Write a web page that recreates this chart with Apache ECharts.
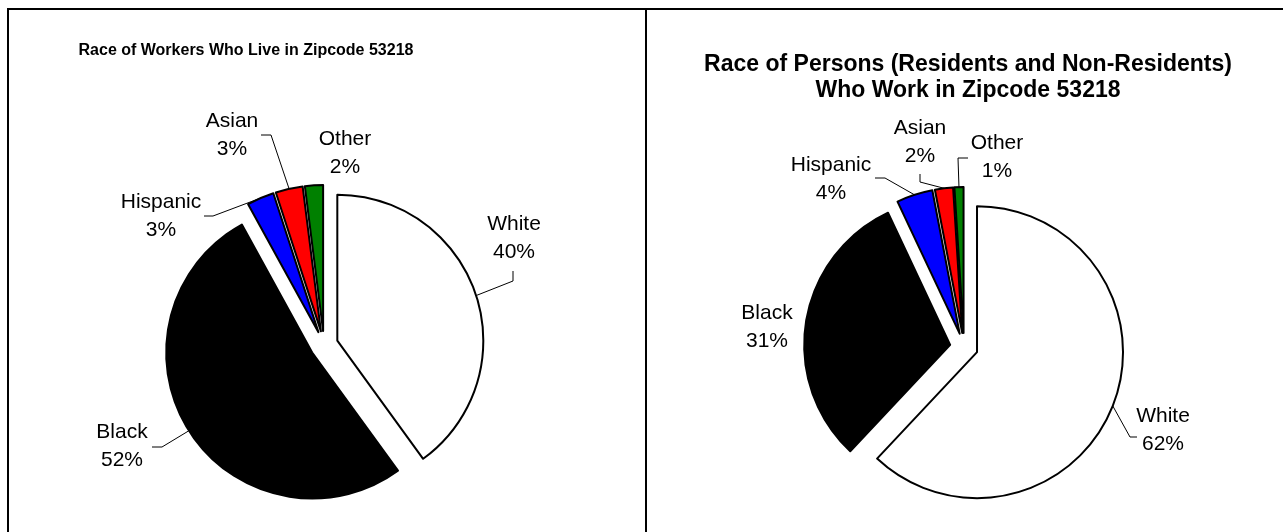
<!DOCTYPE html>
<html>
<head>
<meta charset="utf-8">
<script src="https://cdn.jsdelivr.net/npm/echarts@6/dist/echarts.min.js"></script>
<style>
  html, body { margin: 0; padding: 0; background: #ffffff; }
  #chart { width: 1283px; height: 532px; }
</style>
</head>
<body>
<div id="chart"></div>
<script>
// Race categories and their shares (percent) for the two zipcode pies
const categories = ['White', 'Black', 'Hispanic', 'Asian', 'Other'];
const liveShares = [40, 52, 3, 3, 2];
const workShares = [62, 31, 4, 2, 1];
const sliceColors = ['#ffffff', '#000000', '#0000ff', '#ff0000', '#008000'];
const liveTitle = ['Race of Workers Who Live in Zipcode 53218'];
const workTitle = ['Race of Persons (Residents and Non-Residents)', 'Who Work in Zipcode 53218'];

const FONT = "'Liberation Sans', Arial, Helvetica, sans-serif";
const PIE_RADIUS = 146;
const EXPLODE = 14;

// Label placement (text block centre) and the leader-line elbow for each slice
const liveLabels = {
  White:    { x: 514, y: 238, line: [[513, 281], [513, 271]] },
  Black:    { x: 122, y: 446, line: [[162, 447], [152, 447]] },
  Hispanic: { x: 161, y: 216, line: [[213, 216], [204, 216]] },
  Asian:    { x: 232, y: 135, line: [[271, 135], [261, 135]] },
  Other:    { x: 345, y: 153, line: null }
};
const workLabels = {
  White:    { x: 1163, y: 430, line: [[1130, 437], [1137, 437]] },
  Black:    { x: 767, y: 327, line: null },
  Hispanic: { x: 831, y: 179, line: [[885, 178], [875, 178]] },
  Asian:    { x: 920, y: 142, line: [[920, 182], [920, 174]] },
  Other:    { x: 997, y: 157, line: [[958, 158], [968, 158]] }
};

const pies = [
  { shares: liveShares, center: [324, 345], labels: liveLabels,
    title: liveTitle, titleX: 246, titleY: 51, titleSize: 16, titleGap: 19 },
  { shares: workShares, center: [964, 347], labels: workLabels,
    title: workTitle, titleX: 968, titleY: 65, titleSize: 23, titleGap: 26 }
];

// Direction of a slice's mid-angle (clockwise from 12 o'clock)
function sliceDirection(shares, idx) {
  const total = shares.reduce((a, b) => a + b, 0);
  let before = 0;
  for (let k = 0; k < idx; k++) before += shares[k];
  const theta = (before + shares[idx] / 2) / total * Math.PI * 2;
  return [Math.sin(theta), -Math.cos(theta)];
}

const series = [];
pies.forEach(pie => {
  categories.forEach((cat, i) => {
    const [ux, uy] = sliceDirection(pie.shares, i);
    const c = [pie.center[0] + EXPLODE * ux, pie.center[1] + EXPLODE * uy];
    const anchor = [c[0] + PIE_RADIUS * ux, c[1] + PIE_RADIUS * uy];
    const lay = pie.labels[cat];
    series.push({
      type: 'pie',
      center: c,
      radius: PIE_RADIUS,
      startAngle: 90,
      clockwise: true,
      avoidLabelOverlap: false,
      silent: true,
      animation: false,
      label: {
        position: 'outside',
        color: '#000',
        fontFamily: FONT,
        fontSize: 21,
        lineHeight: 28,
        align: 'center',
        formatter: p => p.name + '\n' + p.value + '%'
      },
      labelLine: { show: true, length: 6, length2: 6, lineStyle: { color: '#000', width: 1 } },
      data: categories.map((name, j) => ({
        name: name,
        value: pie.shares[j],
        itemStyle: j === i
          ? { color: sliceColors[j], borderColor: '#000', borderWidth: 2 }
          : { color: 'rgba(0,0,0,0)', borderWidth: 0 },
        label: { show: j === i },
        labelLine: { show: j === i && !!lay.line }
      })),
      labelLayout: params => {
        if (params.dataIndex !== i) return {};
        const out = { x: lay.x, y: lay.y, align: 'center', verticalAlign: 'middle' };
        if (lay.line) out.labelLinePoints = [anchor].concat(lay.line);
        return out;
      }
    });
  });
});

const graphics = [
  { type: 'rect', shape: { x: 8, y: 9, width: 638, height: 600 }, style: { fill: 'none', stroke: '#000', lineWidth: 2 }, silent: true },
  { type: 'rect', shape: { x: 646, y: 9, width: 700, height: 600 }, style: { fill: 'none', stroke: '#000', lineWidth: 2 }, silent: true }
];
pies.forEach(pie => {
  pie.title.forEach((line, k) => {
    graphics.push({
      type: 'text',
      silent: true,
      style: {
        text: line,
        x: pie.titleX,
        y: pie.titleY + k * pie.titleGap,
        align: 'center',
        verticalAlign: 'middle',
        fill: '#000',
        font: 'bold ' + pie.titleSize + 'px ' + FONT
      }
    });
  });
});

const chart = echarts.init(document.getElementById('chart'), null, { renderer: 'canvas' });
chart.setOption({
  backgroundColor: '#ffffff',
  animation: false,
  graphic: graphics,
  series: series
});
</script>
</body>
</html>
